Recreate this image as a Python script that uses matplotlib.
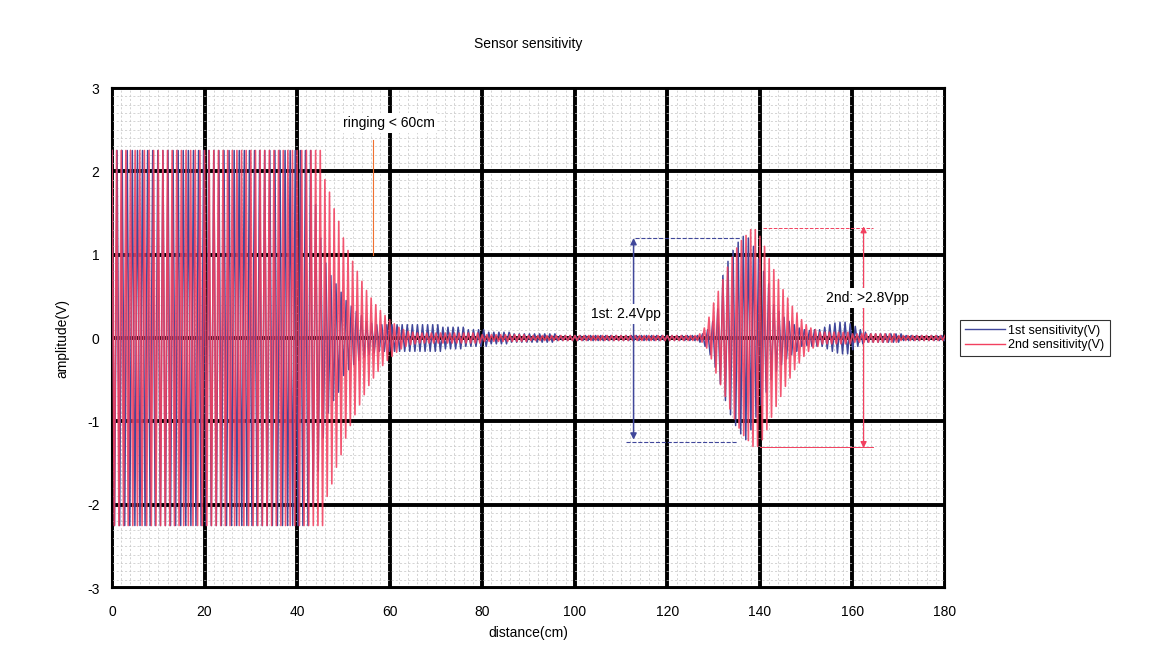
import matplotlib
matplotlib.use('Agg')
import matplotlib.pyplot as plt
from matplotlib.ticker import MultipleLocator
import numpy as np

plt.rcParams['font.family'] = ['Liberation Sans', 'DejaVu Sans']
plt.rcParams['axes.unicode_minus'] = False

# envelope of each trace, one value per cm (0..180)
env_1st = ([2.25] * 43
           + [2.0, 1.6, 1.2, 0.9, 0.75, 0.65, 0.55, 0.45, 0.38, 0.32, 0.27, 0.23, 0.2, 0.18]
           + [0.16] * 14 + [0.13] * 5 + [0.1] * 5 + [0.07] * 5 + [0.05] * 10 + [0.03] * 31
           + [0.05, 0.1, 0.2, 0.35, 0.55, 0.75, 0.92, 1.05, 1.15, 1.22, 1.2, 1.1,
              0.95, 0.8, 0.65, 0.5, 0.4, 0.32, 0.25, 0.2, 0.16, 0.12, 0.1, 0.09]
           + [0.1] * 3
           + [0.13, 0.16, 0.18, 0.19, 0.19, 0.17, 0.14, 0.1, 0.07]
           + [0.05] * 8 + [0.03] * 10)

env_2nd = ([2.25] * 46
           + [1.9, 1.75, 1.55, 1.4, 1.2, 1.05, 0.92, 0.8, 0.68, 0.57, 0.48, 0.4, 0.33,
              0.27, 0.22, 0.17, 0.13, 0.1, 0.08, 0.07]
           + [0.06] * 14 + [0.04] * 10 + [0.03] * 37
           + [0.05, 0.12, 0.25, 0.42, 0.56, 0.7, 0.85, 0.97, 1.08, 1.17, 1.23, 1.3, 1.3,
              1.22, 1.1, 0.95, 0.82, 0.7, 0.58, 0.48, 0.38, 0.3, 0.22, 0.16, 0.12, 0.1]
           + [0.07] * 7 + [0.05] * 10 + [0.03] * 11)

half_period_1st = 0.55   # cm between successive peaks
half_period_2nd = 0.5

labels = ['1st sensitivity(V)', '2nd sensitivity(V)']
c_blue = '#40479a'
c_red = '#f2405f'


def trace(env, half):
    x = np.arange(0, 180.0001, half)
    sign = np.where(np.arange(len(x)) % 2 == 0, 1.0, -1.0)
    y = np.array(env)[x.astype(int)] * sign
    return x, y


fig = plt.figure(figsize=(11.64, 6.54), dpi=100)
ax = fig.add_axes([0.0962, 0.1009, 0.7157, 0.7645])

x1, y1 = trace(env_1st, half_period_1st)
x2, y2 = trace(env_2nd, half_period_2nd)
ax.plot(x1, y1, color=c_blue, lw=1.1, label=labels[0], zorder=3)
ax.plot(x2, y2, color=c_red, lw=1.2, alpha=0.88, label=labels[1], zorder=4)

ax.set_xlim(0, 180)
ax.set_ylim(-3, 3)
ax.xaxis.set_major_locator(MultipleLocator(20))
ax.yaxis.set_major_locator(MultipleLocator(1))
ax.xaxis.set_minor_locator(MultipleLocator(2))
ax.yaxis.set_minor_locator(MultipleLocator(0.1))
ax.grid(which='major', color='black', lw=2.8, zorder=1)
ax.grid(which='minor', color='#c4c4c4', lw=0.5, ls=(0, (3, 3)), zorder=0)
ax.tick_params(which='both', length=0, labelsize=10)
ax.tick_params(axis='x', pad=12)
ax.tick_params(axis='y', pad=9)
for s in ax.spines.values():
    s.set_linewidth(1.5)

ax.set_title('Sensor sensitivity', fontsize=10, pad=29)
ax.set_xlabel('distance(cm)', fontsize=10, labelpad=5)
ax.set_ylabel('amplitude(V)', fontsize=10, labelpad=13)

# annotations
ax.text(59.8, 2.58, 'ringing < 60cm', fontsize=10, ha='center', va='center',
        bbox=dict(facecolor='white', edgecolor='none', pad=2), zorder=6)
ax.plot([56.4, 56.4], [2.38, 1.0], color='#f07030', lw=0.8, zorder=5)

ax.plot([113, 136], [1.2, 1.2], color=c_blue, lw=0.8, ls='--', zorder=5)
ax.plot([111, 135], [-1.25, -1.25], color=c_blue, lw=0.8, ls='--', zorder=5)
ax.annotate('', xy=(112.7, 1.2), xytext=(112.7, -1.22),
            arrowprops=dict(arrowstyle='<|-|>', color=c_blue, lw=1.1,
                            mutation_scale=9, shrinkA=0, shrinkB=0), zorder=6)
ax.text(111, 0.29, '1st: 2.4Vpp', fontsize=10, ha='center', va='center',
        bbox=dict(facecolor='white', edgecolor='none', pad=2), zorder=7)

ax.plot([140.6, 164.4], [1.32, 1.32], color=c_red, lw=0.7, ls='--', zorder=5)
ax.plot([140, 164.4], [-1.31, -1.31], color=c_red, lw=0.7, ls='-', zorder=5)
ax.annotate('', xy=(162.4, 1.34), xytext=(162.4, -1.32),
            arrowprops=dict(arrowstyle='<|-|>', color=c_red, lw=0.9,
                            mutation_scale=9, shrinkA=0, shrinkB=0), zorder=6)
ax.text(163.3, 0.48, '2nd: >2.8Vpp', fontsize=10, ha='center', va='center',
        bbox=dict(facecolor='white', edgecolor='none', pad=2), zorder=7)

leg = ax.legend(loc='center left', bbox_to_anchor=(1.01, 0.5), fontsize=9,
                frameon=True, fancybox=False, edgecolor='black', handlelength=3.2,
                borderpad=0.4, labelspacing=0.2, handletextpad=0.3)
leg.get_frame().set_linewidth(0.8)
for h in leg.get_lines():
    h.set_alpha(1)
    h.set_linewidth(1.0)

fig.savefig('out.png', dpi=100)
